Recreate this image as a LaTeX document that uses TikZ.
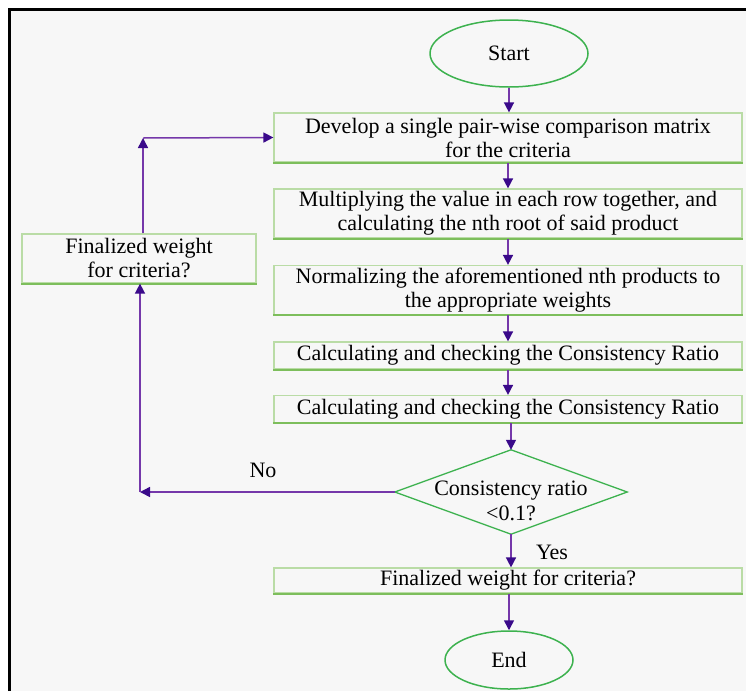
\documentclass[tikz,border=0pt]{standalone}
\usepackage{fontspec}
\setmainfont{Liberation Serif}
\usetikzlibrary{shapes.geometric,arrows.meta}

\definecolor{pagegray}{HTML}{F7F7F7}
\definecolor{boxlight}{HTML}{BADCA6}
\definecolor{boxdark}{HTML}{7DBE5C}
\definecolor{termgreen}{HTML}{3DB24F}
\definecolor{flowline}{HTML}{7538AA}
\definecolor{flowtip}{HTML}{3A0A8A}

\tikzset{
  txt/.style={font=\fontsize{22}{24}\selectfont, text=black},
  stepbox/.style={txt, draw=boxlight, line width=1.2pt, inner sep=0pt,
    minimum width=468pt, align=center},
  boxshade/.style={draw=boxdark, line width=2pt},
  terminal/.style={txt, ellipse, draw=termgreen, line width=1.5pt, inner sep=0pt},
  decision/.style={inner sep=0pt, minimum width=232pt, minimum height=84pt},
  decisionedge/.style={draw=termgreen, line width=1.3pt, line join=miter},
  arr/.style={draw=flowline, line width=1.5pt,
    -{Triangle[length=10pt,width=10pt,color=flowtip]}},
  lbl/.style={txt}
}

\begin{document}
\begin{tikzpicture}[x=1pt, y=-1pt]
  % page and frame
  \useasboundingbox (0,0) rectangle (746,691);
  \fill[white] (0,0) rectangle (746,691);
  \fill[pagegray] (9,9) rectangle (746,691);
  \draw[black, line width=3pt] (9,691) -- (9,9) -- (746,9);

  % process steps
  \node[terminal, minimum width=158pt, minimum height=67pt] (start) at (509,53.5) {Start};
  \node[stepbox, minimum height=49pt] (b1) at (508,137.5)
    {Develop a single pair-wise comparison matrix\\for the criteria};
  \node[stepbox, minimum height=49pt] (b2) at (508,213.5)
    {Multiplying the value in each row together, and\\calculating the nth root of said product};
  \node[stepbox, minimum height=49pt] (b3) at (508,290)
    {Normalizing the aforementioned nth products to\\the appropriate weights};
  \node[stepbox, minimum height=27pt] (b4) at (508,355.5)
    {Calculating and checking the Consistency Ratio};
  \node[stepbox, minimum height=27pt] (b5) at (508,409)
    {Calculating and checking the Consistency Ratio};

  % decision: outline and its (slightly lowered) text
  \node[decision] (dec) at (511,492) {};
  \draw[decisionedge] (dec.west) -- (dec.north) -- (dec.east) -- (dec.south) -- cycle;
  \node[txt, align=center, font=\fontsize{22}{25}\selectfont] (dectext) at (511,500.5)
    {Consistency ratio\\<0.1?};

  \node[stepbox, minimum height=25pt] (b6) at (508,580.5)
    {Finalized weight for criteria?};
  \node[terminal, minimum width=128pt, minimum height=58pt] (end) at (509,660) {End};

  % feedback box
  \node[stepbox, minimum width=234pt, minimum height=49pt] (fb) at (139,258.5)
    {Finalized weight\\for criteria?};

  % darker lower edges of the boxes
  \foreach \n in {b1,b2,b3,b4,b5,b6,fb}
    \draw[boxshade] (\n.south west) -- (\n.south east);

  % main flow
  \draw[arr] (start) -- (start.south |- b1.north);
  \draw[arr] (b1) -- (b2);
  \draw[arr] (b2) -- (b3);
  \draw[arr] (b3) -- (b4);
  \draw[arr] (b4) -- (b5);
  \draw[arr] (b5.south -| dec.north) -- (dec.north);
  \draw[arr] (dec.south) -- (b6.north -| dec.south);
  \draw[arr] (b6.south -| end.north) -- (end.north);

  % loop back
  \coordinate (up) at (143,138);
  \coordinate (low) at (140,494);
  \draw[arr] (dec.west) -- (dec.west -| low);
  \draw[arr] (dec.west -| low) -- (fb.south -| low);
  \draw[arr] (fb.north -| up) -- (up);
  \draw[arr] (up) -- (b1.west);

  % labels
  \node[lbl] (no) at (263,470) {No};
  \node[lbl] (yes) at (552,552) {Yes};
\end{tikzpicture}
\end{document}
